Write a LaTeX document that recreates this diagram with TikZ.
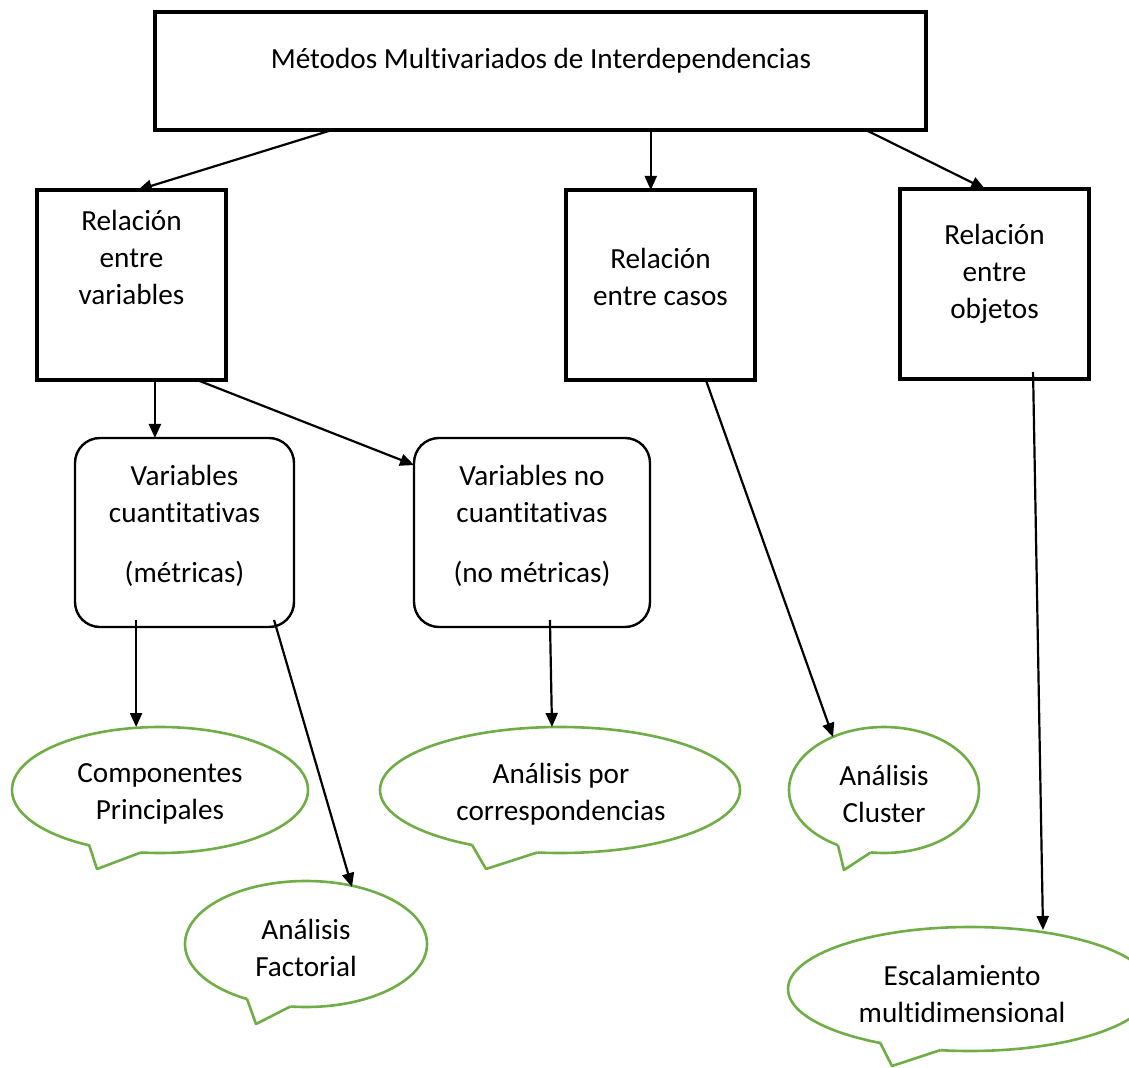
\documentclass[tikz,border=0pt]{standalone}
\usepackage{fontspec}
\setmainfont{Carlito}[RawFeature=-liga]
\usetikzlibrary{arrows.meta,calc,shapes.geometric}
\definecolor{bubblegreen}{HTML}{70AD47}
\begin{document}
\begin{tikzpicture}[x=0.5pt,y=-0.5pt,
  every node/.style={font=\fontsize{14.6}{18.5}\selectfont, text=black},
  frame/.style={draw, line width=2pt, inner sep=0pt, outer sep=0pt},
  softbox/.style={draw, line width=1.2pt, rounded corners=12.5pt, inner sep=0pt, outer sep=0pt},
  bubble/.style={ellipse, draw=bubblegreen, line width=1.3pt, inner sep=0pt, outer sep=0pt, align=center},
  boxtext/.style={align=center, inner sep=0pt},
  tailline/.style={draw=bubblegreen, line width=1.3pt, line join=round},
  link/.style={line width=1.1pt, -{Triangle[length=7pt,width=6pt]}}
]
\useasboundingbox (0,0) rectangle (1129,1068);
\clip (0,0) rectangle (1129,1068);

% a speech bubble tail: white patch over the ellipse edge, then the two green sides
\newcommand\bubbletail[4]{%
  \fill[white] (#1.#2) -- (#4) -- (#1.#3)
    -- ($(#1.center)!0.85!(#1.#3)$) -- ($(#1.center)!0.85!(#1.#2)$) -- cycle;
  \draw[tailline] (#1.#2) -- (#4) -- (#1.#3);}

% ---------- boxes ----------
\node[frame, minimum width=385.5pt, minimum height=59pt] (top) at (540.5,71) {};
\node[boxtext] (top-t) at (541,61) {Métodos Multivariados de Interdependencias};

\node[frame, minimum width=94.5pt, minimum height=95pt] (lvar) at (131.5,285) {};
\node[boxtext] (lvar-t) at (131.5,257.5) {Relación\\entre\\variables};

\node[frame, minimum width=94.5pt, minimum height=95pt] (casos) at (660.5,285) {};
\node[boxtext] (casos-t) at (660.5,276.5) {Relación\\entre casos};

\node[frame, minimum width=94.5pt, minimum height=95pt] (obj) at (994.5,284) {};
\node[boxtext] (obj-t) at (994.5,274) {Relación\\entre\\objetos};

\node[softbox, minimum width=109.5pt, minimum height=94.5pt] (cuant) at (184.5,532.5) {};
\node[boxtext] (cuant-t) at (184.5,525.5) {Variables\\cuantitativas\\[11.5pt](métricas)};

\node[softbox, minimum width=118pt, minimum height=94.5pt] (nocuant) at (532,532.5) {};
\node[boxtext] (nocuant-t) at (532,525.5) {Variables no\\cuantitativas\\[11.5pt](no métricas)};

% ---------- bubbles ----------
\node[bubble, minimum width=148pt, minimum height=63pt] (comp) at (160,790) {};
\node[boxtext] (comp-t) at (160,794) {Componentes\\Principales};
\coordinate (comp-tip) at (97,869);
\bubbletail{comp}{-142.5}{-107.6}{comp-tip}

\node[bubble, minimum width=121pt, minimum height=63pt] (fact) at (306,944) {};
\node[boxtext] (fact-t) at (306,948) {Análisis\\Factorial};
\coordinate (fact-tip) at (256,1024);
\bubbletail{fact}{-137}{-104.3}{fact-tip}

\node[bubble, minimum width=180pt, minimum height=63pt] (corr) at (560,790) {};
\node[boxtext] (corr-t) at (561,794) {Análisis por\\correspondencias};
\coordinate (corr-tip) at (486,869);
\bubbletail{corr}{-148}{-110}{corr-tip}

\node[bubble, minimum width=95pt, minimum height=63pt] (clus) at (884,790) {};
\node[boxtext] (clus-t) at (884,794) {Análisis\\Cluster};
\coordinate (clus-tip) at (844,870);
\bubbletail{clus}{-130}{-102.7}{clus-tip}

\node[bubble, minimum width=182pt, minimum height=62pt] (escal) at (970,989) {};
\node[boxtext] (escal-t) at (962,994) {Escalamiento\\multidimensional};
\coordinate (escal-tip) at (892,1066);
\bubbletail{escal}{-149}{-116}{escal-tip}

% ---------- connectors ----------
\coordinate (s1) at ($(top.south west)!0.2296!(top.south east)$);
\coordinate (s2) at ($(top.south west)!0.643!(top.south east)$);
\coordinate (s3) at ($(top.south west)!0.922!(top.south east)$);
\coordinate (s4) at ($(lvar.south west)!0.624!(lvar.south east)$);
\coordinate (s5) at ($(lvar.south west)!0.847!(lvar.south east)$);
\coordinate (s6) at ($(cuant.south west)!0.279!(cuant.south east)+(0,-7)$);
\coordinate (s7) at ($(cuant.south west)!0.909!(cuant.south east)+(0,-7)$);
\coordinate (s8) at ($(nocuant.south west)!0.576!(nocuant.south east)+(0,-7)$);
\coordinate (s9) at ($(casos.south west)!0.74!(casos.south east)$);
\coordinate (s10) at ($(obj.south west)!0.704!(obj.south east)+(0,-7)$);

\draw[link] (s1) -- ($(lvar.north west)!0.534!(lvar.north east)$);
\draw[link] (s2) -- (s2 |- casos.north);
\draw[link] (s3) -- ($(obj.north west)!0.45!(obj.north east)$);
\draw[link] (s4) -- (s4 |- cuant.north);
\draw[link] (s5) -- ($(nocuant.north west)!0.143!(nocuant.south west)$);
\draw[link] (s6) -- (s6 |- comp.north);
\draw[link] (s7) -- ($(fact.center)+(46,-57)$);
\draw[link] (s8) -- ($(corr.north)+(-8,0)$);
\draw[link] (s9) -- ($(clus.center)+(-51,-53)$);
\draw[link] (s10) -- ($(escal.center)+(73,-59)$);
\end{tikzpicture}
\end{document}
